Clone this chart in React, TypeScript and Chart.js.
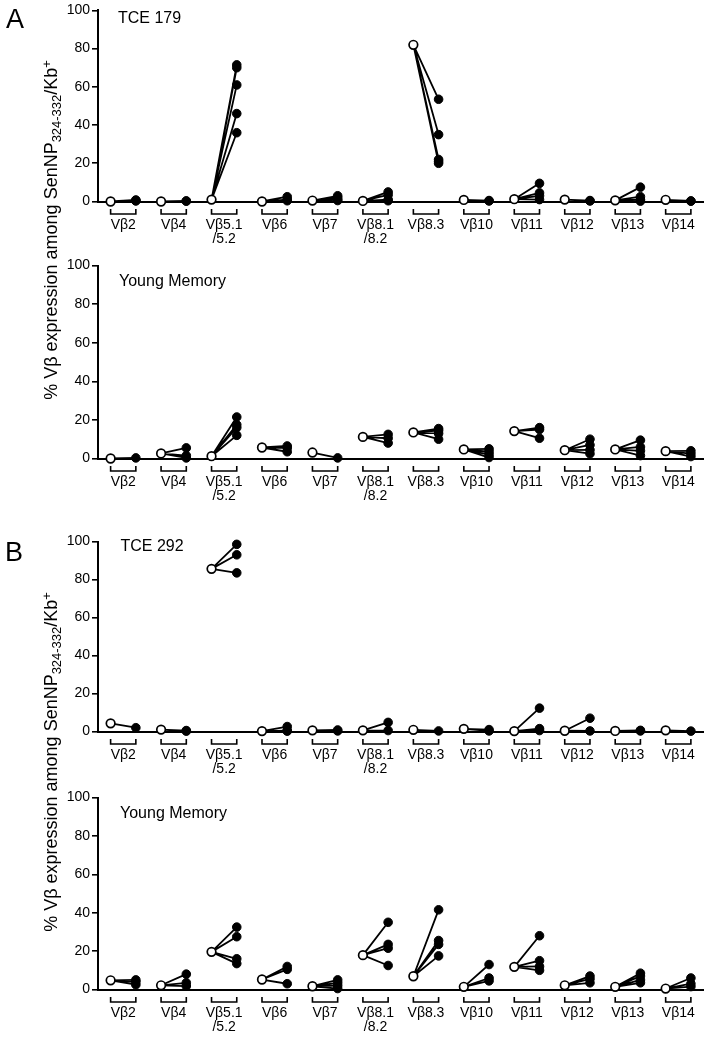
import React, { useEffect, useRef } from 'react';
import { Chart, registerables } from 'chart.js';

Chart.register(...registerables);

const FONT = '"Liberation Sans", Arial, Helvetica, sans-serif';
Chart.defaults.font.family = FONT;

// ---------- data ----------
const categories: string[][] = [
  ['Vβ2'], ['Vβ4'], ['Vβ5.1', '/5.2'], ['Vβ6'], ['Vβ7'], ['Vβ8.1', '/8.2'],
  ['Vβ8.3'], ['Vβ10'], ['Vβ11'], ['Vβ12'], ['Vβ13'], ['Vβ14'],
];
const yTicks = [0, 20, 40, 60, 80, 100];

// Panel A, top: TCE 179
const tce179Before = [0, 0, 1, 0, 0.5, 0.3, 82, 0.8, 1.2, 1, 0.6, 0.9];
const tce179After = [
  [0.5, 0.3, 0.8], [0.3, 0.2], [71.5, 70, 61, 46, 36], [2.5, 1, 0.4], [3, 2, 1, 0.5],
  [5, 3.5, 1, 0.4], [53.5, 35, 22, 21, 20], [0.5, 0.3], [9.5, 4.5, 3, 1], [0.5, 0.3],
  [7.5, 2.5, 1, 0.2], [0.3, 0.2],
];

// Panel A, bottom: Young Memory
const youngABefore = [0, 2.6, 1.2, 5.7, 3.1, 11.2, 13.5, 4.7, 14.2, 4.3, 4.7, 3.8];
const youngAAfter = [
  [0.3], [5.5, 1.5, 0.3], [21.5, 17.5, 16, 12], [6.5, 5.5, 3.5], [0.3],
  [12.5, 10.5, 8], [15.5, 14.5, 13, 10], [5, 3.5, 2, 0.5], [16, 15, 10.5],
  [10, 7, 4.5, 2.5], [9.5, 6, 4, 1.5], [4, 2.5, 1],
];

// Panel B, top: TCE 292
const tce292Before = [4.3, 1, 85.6, 0.2, 0.6, 0.6, 0.9, 1.4, 0.2, 0.4, 0.3, 0.6];
const tce292After = [
  [2], [0.5, 0.2], [98.5, 93, 83.5], [2.6, 0.5, 0.2], [0.8, 0.3], [4.8, 0.5],
  [0.3], [1, 0.3], [12.3, 1.5, 0.5], [7, 0.3], [0.6, 0.3], [0.2],
];

// Panel B, bottom: Young Memory
const youngBBefore = [4.8, 2.2, 19.6, 5.2, 1.7, 17.9, 6.9, 1.4, 11.8, 2.2, 1.4, 0.5];
const youngBAfter = [
  [5, 4, 2.5], [8, 3.5, 1.8], [32.5, 27.5, 16, 13.5], [12, 10.5, 3], [5, 3.5, 2, 0.5],
  [35, 23.5, 21.5, 12.5], [41.5, 25.5, 23.5, 17.5], [13, 6, 4.5], [28, 15, 12, 10],
  [7, 5.5, 3.5], [8.5, 7, 5, 3.5], [6, 3, 1.5],
];

// ---------- layout ----------
const OPEN_OFFSET = -0.25;
const FILLED_OFFSET = 0.25;
const AXIS_LEFT = 98;
const RIGHT_PAD = 6;

const bracketPlugin = {
  id: 'brackets',
  afterDraw(chart: any) {
    const { ctx, scales } = chart;
    const x = scales.x;
    const y = scales.y;
    const y0 = y.getPixelForValue(0);
    ctx.save();
    ctx.strokeStyle = '#000';
    ctx.lineWidth = 1.6;
    categories.forEach((_, i) => {
      const x1 = x.getPixelForValue(i + OPEN_OFFSET);
      const x2 = x.getPixelForValue(i + FILLED_OFFSET);
      ctx.beginPath();
      ctx.moveTo(x1, y0 + 7.5);
      ctx.lineTo(x1, y0 + 12.5);
      ctx.lineTo(x2, y0 + 12.5);
      ctx.lineTo(x2, y0 + 7.5);
      ctx.stroke();
    });
    ctx.restore();
  },
};

interface PanelProps {
  before: number[];
  after: number[][];
  top: number;
  height: number;
  areaTop: number; // relative to canvas
  areaBottom: number; // relative to canvas
}

function Panel({ before, after, top, height, areaTop, areaBottom }: PanelProps) {
  const ref = useRef<HTMLCanvasElement>(null);
  useEffect(() => {
    if (!ref.current) return;
    const lineData: any[] = [];
    const filled: any[] = [];
    before.forEach((b, i) => {
      after[i].forEach((a) => {
        lineData.push({ x: i + OPEN_OFFSET, y: b });
        lineData.push({ x: i + FILLED_OFFSET, y: a });
        lineData.push({ x: i, y: null });
        filled.push({ x: i + FILLED_OFFSET, y: a });
      });
    });
    const open = before.map((b, i) => ({ x: i + OPEN_OFFSET, y: b }));
    const xAxisH = height - areaBottom;
    const chart = new Chart(ref.current, {
      type: 'line',
      data: {
        datasets: [
          {
            data: open,
            showLine: false,
            pointRadius: 4.3,
            pointBackgroundColor: '#fff',
            pointBorderColor: '#000',
            pointBorderWidth: 1.7,
            clip: false as any,
            order: 0,
          },
          {
            data: filled,
            showLine: false,
            pointRadius: 4.3,
            pointBackgroundColor: '#000',
            pointBorderColor: '#000',
            pointBorderWidth: 1,
            clip: false as any,
            order: 1,
          },
          {
            data: lineData,
            showLine: true,
            spanGaps: false,
            borderColor: '#000',
            borderWidth: 1.8,
            pointRadius: 0,
            tension: 0,
            clip: false as any,
            order: 2,
          },
        ] as any,
      },
      options: {
        animation: false,
        responsive: false,
        events: [],
        layout: { padding: { top: areaTop, right: RIGHT_PAD, left: 0, bottom: 0 } },
        plugins: {
          legend: { display: false },
          tooltip: { enabled: false },
          title: { display: false },
        },
        scales: {
          x: {
            type: 'linear',
            min: -0.5,
            max: 11.5,
            grid: { display: false, drawTicks: false },
            border: { display: true, color: '#000', width: 2 },
            afterBuildTicks: (s: any) => {
              s.ticks = categories.map((_, i) => ({ value: i }));
            },
            afterFit: (s: any) => {
              s.height = xAxisH;
            },
            ticks: {
              autoSkip: false,
              maxRotation: 0,
              minRotation: 0,
              color: '#000',
              padding: 16,
              font: { family: FONT, size: 14, lineHeight: 1.05 },
              callback: (v: any) => categories[Math.round(Number(v))] as any,
            },
          },
          y: {
            type: 'linear',
            min: 0,
            max: 100,
            afterBuildTicks: (s: any) => {
              s.ticks = yTicks.map((v) => ({ value: v }));
            },
            afterFit: (s: any) => {
              s.width = AXIS_LEFT;
            },
            grid: {
              drawOnChartArea: false,
              drawTicks: true,
              tickLength: 6,
              color: '#000',
              lineWidth: 1.6,
            },
            border: { display: true, color: '#000', width: 2 },
            ticks: {
              color: '#000',
              padding: 2,
              font: { family: FONT, size: 14 },
            },
          },
        } as any,
      },
      plugins: [bracketPlugin],
    });
    return () => chart.destroy();
  }, [before, after, height, areaTop, areaBottom]);
  return (
    <canvas
      ref={ref}
      width={711}
      height={height}
      style={{ position: 'absolute', left: 0, top, width: 711, height }}
    />
  );
}

const textBase: React.CSSProperties = {
  position: 'absolute',
  fontFamily: FONT,
  color: '#000',
  lineHeight: 1,
  whiteSpace: 'nowrap',
  margin: 0,
};

function Label({ text, left, top, size }: { text: string; left: number; top: number; size: number }) {
  return <div style={{ ...textBase, left, top, fontSize: size }}>{text}</div>;
}

function YTitle({ cx, cy }: { cx: number; cy: number }) {
  return (
    <div
      style={{
        ...textBase,
        left: cx,
        top: cy,
        fontSize: 18,
        transform: 'translate(-50%, -50%) rotate(-90deg)',
      }}
    >
      % Vβ expression among SenNP
      <span style={{ fontSize: '0.72em', position: 'relative', top: '0.3em' }}>324-332</span>
      /Kb
      <span style={{ fontSize: '0.72em', position: 'relative', top: '-0.45em' }}>+</span>
    </div>
  );
}

export default function App() {
  return (
    <div style={{ position: 'absolute', left: 0, top: 0, width: 711, height: 1037, background: '#fff', overflow: 'hidden' }}>
      <Panel before={tce179Before} after={tce179After} top={0} height={250} areaTop={9.5} areaBottom={201.5} />
      <Panel before={youngABefore} after={youngAAfter} top={250} height={260} areaTop={15.5} areaBottom={208.5} />
      <Panel before={tce292Before} after={tce292After} top={510} height={270} areaTop={31.5} areaBottom={221.5} />
      <Panel before={youngBBefore} after={youngBAfter} top={780} height={257} areaTop={17.5} areaBottom={209.5} />

      <Label text="A" left={6} top={6} size={27} />
      <Label text="B" left={5} top={539} size={27} />

      <Label text="TCE 179" left={118} top={10} size={16} />
      <Label text="Young Memory" left={119} top={273} size={16} />
      <Label text="TCE 292" left={120.5} top={538} size={16} />
      <Label text="Young Memory" left={120} top={805} size={16} />

      <YTitle cx={51} cy={230} />
      <YTitle cx={51} cy={762} />
    </div>
  );
}
